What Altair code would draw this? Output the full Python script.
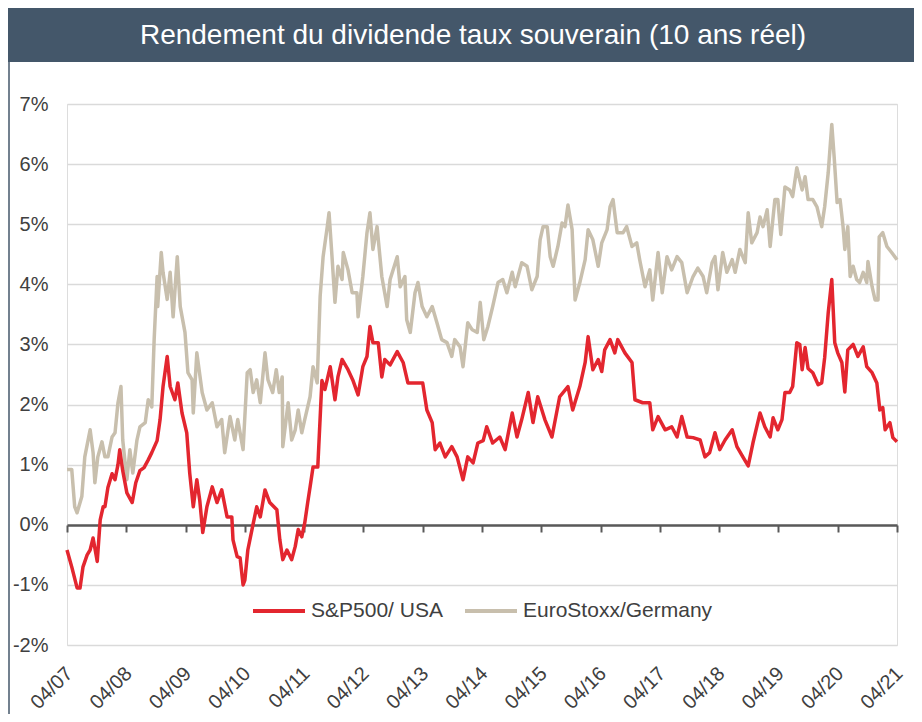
import altair as alt
import pandas as pd

TITLE = "Rendement du dividende taux souverain (10 ans réel)"
SERIES = ["S&P500/ USA", "EuroStoxx/Germany"]
COLORS = ["#e3262f", "#c8bfad"]
YEAR_TICKS = [2007.25 + k for k in range(15)]
PCT_TICKS = [-2, -1, 0, 1, 2, 3, 4, 5, 6, 7]

# S&P500 / USA (decimal year, %)
spx_year = [2007.25, 2007.33, 2007.42, 2007.47, 2007.52, 2007.59, 2007.64, 2007.69, 2007.76, 2007.81,
            2007.86, 2007.89, 2007.94, 2008.01, 2008.06, 2008.11, 2008.14, 2008.19, 2008.26, 2008.35,
            2008.41, 2008.48, 2008.55, 2008.62, 2008.68, 2008.77, 2008.82, 2008.87, 2008.94, 2008.99,
            2009.07, 2009.12, 2009.19, 2009.27, 2009.32, 2009.38, 2009.44, 2009.49, 2009.54, 2009.61,
            2009.70, 2009.78, 2009.86, 2009.95, 2010.03, 2010.05, 2010.12, 2010.17, 2010.22, 2010.25,
            2010.30, 2010.37, 2010.45, 2010.51, 2010.59, 2010.67, 2010.79, 2010.84, 2010.89, 2010.96,
            2011.04, 2011.10, 2011.15, 2011.21, 2011.26, 2011.31, 2011.35, 2011.40, 2011.48, 2011.55,
            2011.60, 2011.69, 2011.77, 2011.82, 2011.89, 2011.99, 2012.07, 2012.16, 2012.24, 2012.31,
            2012.36, 2012.41, 2012.50, 2012.56, 2012.61, 2012.70, 2012.82, 2012.92, 2013.00, 2013.15,
            2013.25, 2013.32, 2013.41, 2013.46, 2013.54, 2013.63, 2013.74, 2013.83, 2013.93, 2014.01,
            2014.10, 2014.18, 2014.27, 2014.33, 2014.43, 2014.55, 2014.64, 2014.76, 2014.84, 2014.92,
            2015.03, 2015.11, 2015.19, 2015.31, 2015.43, 2015.56, 2015.70, 2015.78, 2015.90, 2015.99,
            2016.04, 2016.12, 2016.21, 2016.27, 2016.32, 2016.41, 2016.49, 2016.54, 2016.66, 2016.78,
            2016.83, 2016.96, 2017.08, 2017.13, 2017.22, 2017.34, 2017.45, 2017.54, 2017.62, 2017.71,
            2017.81, 2017.93, 2018.01, 2018.09, 2018.18, 2018.26, 2018.35, 2018.47, 2018.55, 2018.65,
            2018.74, 2018.82, 2018.94, 2019.02, 2019.11, 2019.16, 2019.24, 2019.31, 2019.36, 2019.44,
            2019.49, 2019.56, 2019.61, 2019.65, 2019.70, 2019.75, 2019.83, 2019.92, 2019.98, 2020.03,
            2020.09, 2020.15, 2020.20, 2020.25, 2020.32, 2020.37, 2020.42, 2020.51, 2020.59, 2020.68,
            2020.74, 2020.83, 2020.91, 2020.96, 2021.01, 2021.05, 2021.13, 2021.18, 2021.25]
spx_val = [-0.42, -0.70, -1.05, -1.05, -0.70, -0.50, -0.42, -0.22, -0.61, 0.08,
           0.30, 0.30, 0.62, 0.85, 0.75, 1.00, 1.25, 0.90, 0.53, 0.37,
           0.70, 0.90, 0.95, 1.08, 1.20, 1.40, 1.75, 2.30, 2.80, 2.30,
           2.08, 2.36, 1.86, 1.53, 0.86, 0.30, 0.75, 0.40, -0.13, 0.30,
           0.63, 0.37, 0.58, 0.13, 0.13, -0.25, -0.53, -0.55, -1.00, -0.92,
           -0.42, -0.08, 0.30, 0.13, 0.58, 0.37, 0.25, -0.25, -0.58, -0.42,
           -0.58, -0.36, -0.08, -0.20, 0.03, 0.37, 0.63, 0.96, 0.96, 2.40,
           2.25, 2.63, 2.08, 2.46, 2.75, 2.58, 2.41, 2.16, 2.63, 2.80,
           3.30, 3.03, 3.03, 2.46, 2.75, 2.66, 2.88, 2.70, 2.36, 2.36,
           2.36, 1.91, 1.70, 1.25, 1.36, 1.13, 1.30, 1.13, 0.75, 1.13,
           1.03, 1.36, 1.40, 1.63, 1.36, 1.46, 1.25, 1.86, 1.46, 1.75,
           2.20, 1.70, 2.13, 1.75, 1.46, 2.13, 2.30, 1.91, 2.30, 2.70,
           3.13, 2.58, 2.75, 2.55, 2.91, 3.08, 2.86, 3.08, 2.86, 2.70,
           2.08, 2.03, 2.03, 1.58, 1.80, 1.58, 1.63, 1.46, 1.80, 1.46,
           1.45, 1.41, 1.13, 1.20, 1.53, 1.25, 1.41, 1.58, 1.30, 1.13,
           0.98, 1.36, 1.86, 1.63, 1.46, 1.78, 1.58, 1.75, 2.20, 2.20,
           2.30, 3.03, 3.00, 2.58, 2.95, 2.60, 2.53, 2.33, 2.36, 2.78,
           3.53, 4.08, 3.03, 2.86, 2.70, 2.21, 2.91, 3.00, 2.80, 2.96,
           2.63, 2.53, 2.36, 1.91, 1.95, 1.58, 1.70, 1.45, 1.38]

# EuroStoxx / Germany (decimal year, %)
eu_year = [2007.25, 2007.33, 2007.38, 2007.42, 2007.50, 2007.55, 2007.64, 2007.69, 2007.72, 2007.77,
           2007.84, 2007.89, 2007.94, 2008.01, 2008.06, 2008.11, 2008.16, 2008.19, 2008.26, 2008.31,
           2008.36, 2008.43, 2008.48, 2008.57, 2008.62, 2008.68, 2008.72, 2008.77, 2008.78, 2008.84,
           2008.87, 2008.94, 2008.99, 2009.04, 2009.11, 2009.16, 2009.24, 2009.29, 2009.36, 2009.38,
           2009.44, 2009.53, 2009.61, 2009.70, 2009.78, 2009.86, 2009.91, 2010.00, 2010.08, 2010.13,
           2010.22, 2010.29, 2010.34, 2010.39, 2010.45, 2010.51, 2010.59, 2010.64, 2010.72, 2010.78,
           2010.83, 2010.88, 2010.89, 2010.98, 2011.04, 2011.10, 2011.15, 2011.21, 2011.26, 2011.35,
           2011.40, 2011.47, 2011.52, 2011.57, 2011.64, 2011.67, 2011.72, 2011.77, 2011.82, 2011.89,
           2011.91, 2011.99, 2012.06, 2012.14, 2012.16, 2012.24, 2012.31, 2012.36, 2012.41, 2012.48,
           2012.56, 2012.65, 2012.70, 2012.82, 2012.87, 2012.95, 2012.98, 2013.04, 2013.12, 2013.17,
           2013.24, 2013.32, 2013.41, 2013.49, 2013.57, 2013.66, 2013.74, 2013.79, 2013.88, 2013.93,
           2014.01, 2014.08, 2014.17, 2014.22, 2014.28, 2014.35, 2014.43, 2014.52, 2014.60, 2014.67,
           2014.76, 2014.81, 2014.92, 2015.01, 2015.09, 2015.18, 2015.23, 2015.28, 2015.35, 2015.40,
           2015.45, 2015.53, 2015.60, 2015.65, 2015.70, 2015.77, 2015.82, 2015.90, 2015.99, 2016.04,
           2016.12, 2016.21, 2016.27, 2016.36, 2016.41, 2016.46, 2016.53, 2016.63, 2016.69, 2016.78,
           2016.86, 2016.91, 2017.00, 2017.08, 2017.13, 2017.22, 2017.29, 2017.37, 2017.45, 2017.54,
           2017.62, 2017.71, 2017.81, 2017.89, 2017.98, 2018.04, 2018.13, 2018.18, 2018.23, 2018.31,
           2018.38, 2018.47, 2018.52, 2018.60, 2018.69, 2018.74, 2018.80, 2018.89, 2018.94, 2018.99,
           2019.06, 2019.11, 2019.19, 2019.24, 2019.29, 2019.36, 2019.44, 2019.49, 2019.56, 2019.65,
           2019.70, 2019.75, 2019.83, 2019.90, 2019.98, 2020.03, 2020.09, 2020.15, 2020.19, 2020.24,
           2020.29, 2020.34, 2020.37, 2020.42, 2020.46, 2020.51, 2020.57, 2020.62, 2020.68, 2020.74,
           2020.76, 2020.83, 2020.88, 2020.93, 2020.95, 2021.01, 2021.08, 2021.16, 2021.25]
eu_val = [0.92, 0.92, 0.30, 0.20, 0.47, 1.13, 1.58, 1.20, 0.70, 1.13,
          1.38, 1.13, 1.13, 1.46, 1.53, 2.03, 2.30, 1.41, 0.75, 1.25,
          0.86, 1.41, 1.63, 1.70, 2.08, 1.96, 3.08, 4.13, 3.63, 4.53,
          4.20, 3.75, 4.20, 3.46, 4.46, 3.63, 3.20, 2.53, 2.41, 1.86,
          2.86, 2.20, 1.91, 2.03, 1.63, 1.75, 1.20, 1.80, 1.41, 1.75,
          1.25, 2.53, 2.58, 2.20, 2.41, 2.03, 2.86, 2.41, 2.20, 2.58,
          2.20, 2.46, 1.30, 2.03, 1.41, 1.58, 1.91, 1.53, 1.75, 2.13,
          2.63, 2.36, 3.80, 4.46, 4.96, 5.19, 4.46, 3.70, 4.30, 4.08,
          4.53, 4.24, 3.86, 3.86, 3.46, 4.13, 4.86, 5.19, 4.58, 4.96,
          4.13, 3.63, 4.08, 4.46, 3.96, 4.13, 3.41, 3.20, 3.86, 4.03,
          3.63, 3.46, 3.63, 3.36, 3.08, 3.03, 2.80, 3.08, 2.96, 2.63,
          3.36, 3.25, 3.20, 3.70, 3.08, 3.30, 3.63, 4.03, 4.08, 3.86,
          4.20, 3.96, 4.36, 4.30, 3.91, 4.13, 4.74, 4.96, 4.96, 4.46,
          4.30, 4.63, 5.02, 4.96, 5.32, 4.91, 3.74, 4.03, 4.41, 4.91,
          4.74, 4.30, 4.69, 4.91, 5.29, 5.41, 4.86, 4.86, 4.96, 4.63,
          4.69, 4.41, 3.96, 4.24, 3.74, 4.53, 3.86, 4.46, 4.24, 4.46,
          4.36, 3.86, 4.13, 4.27, 4.13, 3.86, 4.36, 4.46, 3.91, 4.53,
          4.20, 4.41, 4.20, 4.58, 4.36, 5.19, 4.69, 4.86, 5.12, 4.96,
          5.24, 4.63, 5.41, 5.41, 4.83, 5.62, 5.57, 5.46, 5.94, 5.57,
          5.79, 5.41, 5.41, 5.29, 4.96, 5.29, 5.86, 6.66, 6.12, 5.36,
          5.41, 4.96, 4.58, 4.96, 4.13, 4.30, 4.08, 4.03, 4.20, 4.03,
          4.38, 3.96, 3.74, 3.74, 4.79, 4.86, 4.63, 4.53, 4.41]

spx = pd.DataFrame({"year": spx_year, "value": spx_val, "series": SERIES[0]})
eu = pd.DataFrame({"year": eu_year, "value": eu_val, "series": SERIES[1]})

FONT = "Liberation Sans"
PLOT_W, PLOT_H = 830, 541

x_enc = alt.X(
    "year:Q",
    scale=alt.Scale(domain=[2007.25, 2021.25], nice=False, zero=False),
    axis=alt.Axis(
        values=YEAR_TICKS,
        labelExpr="'04/' + (floor(datum.value) - 2000 < 10 ? '0' : '') + (floor(datum.value) - 2000)",
        labelAngle=-45,
        labelAlign="right",
        labelBaseline="top",
        labelFontSize=20,
        labelFont=FONT,
        labelColor="#404040",
        labelPadding=131,
        labelOffset=-5,
        offset=-120,
        domainColor="#595959",
        domainWidth=2.5,
        tickColor="#595959",
        tickWidth=2,
        tickSize=7,
        grid=False,
        title=None,
    ),
)
y_enc = alt.Y(
    "value:Q",
    scale=alt.Scale(domain=[-2, 7], nice=False),
    axis=alt.Axis(
        values=PCT_TICKS,
        labelExpr="datum.value + '%'",
        labelFontSize=20,
        labelFont=FONT,
        labelColor="#404040",
        labelPadding=19,
        domain=False,
        ticks=False,
        grid=True,
        gridColor="#dadada",
        gridWidth=1.5,
        title=None,
    ),
)
color_scale = alt.Scale(domain=SERIES, range=COLORS)
legend = alt.Legend(
    title=None,
    orient="none",
    legendX=184,
    legendY=479,
    direction="horizontal",
    symbolType="stroke",
    symbolSize=2704,
    symbolStrokeWidth=4,
    labelFontSize=21,
    labelFont=FONT,
    labelColor="#404040",
    labelOffset=4,
    labelLimit=400,
    columnPadding=14,
)

eu_line = alt.Chart(eu).mark_line(strokeWidth=3.5, strokeJoin="round").encode(
    x=x_enc, y=y_enc, color=alt.Color("series:N", scale=color_scale, legend=legend)
)
spx_line = alt.Chart(spx).mark_line(strokeWidth=3.5, strokeJoin="round").encode(
    x="year:Q", y="value:Q", color=alt.Color("series:N", scale=color_scale, legend=legend)
)

title_df = pd.DataFrame({"t": [TITLE]})
banner = alt.Chart(title_df).mark_rect(color="#44576a").encode(
    x=alt.value(-59), x2=alt.value(PLOT_W + 30), y=alt.value(-96), y2=alt.value(-42)
)
title_text = alt.Chart(title_df).mark_text(
    color="white", fontSize=28, font=FONT, align="center", baseline="middle"
).encode(text="t:N", x=alt.value(406), y=alt.value(-68))
border = alt.Chart(title_df).mark_rule(color="#44576a", strokeWidth=1.5).encode(
    x=alt.value(-58), y=alt.value(-42), y2=alt.value(PLOT_H + 80)
)

chart = alt.layer(banner, title_text, border, eu_line, spx_line).properties(
    width=PLOT_W,
    height=PLOT_H,
    autosize=alt.AutoSizeParams(type="none"),
    padding={"left": 59, "top": 96, "right": 17, "bottom": 69},
).configure_view(stroke=None).configure(background="white")

chart.save("out.html", embed_options={"renderer": "svg", "actions": False})
